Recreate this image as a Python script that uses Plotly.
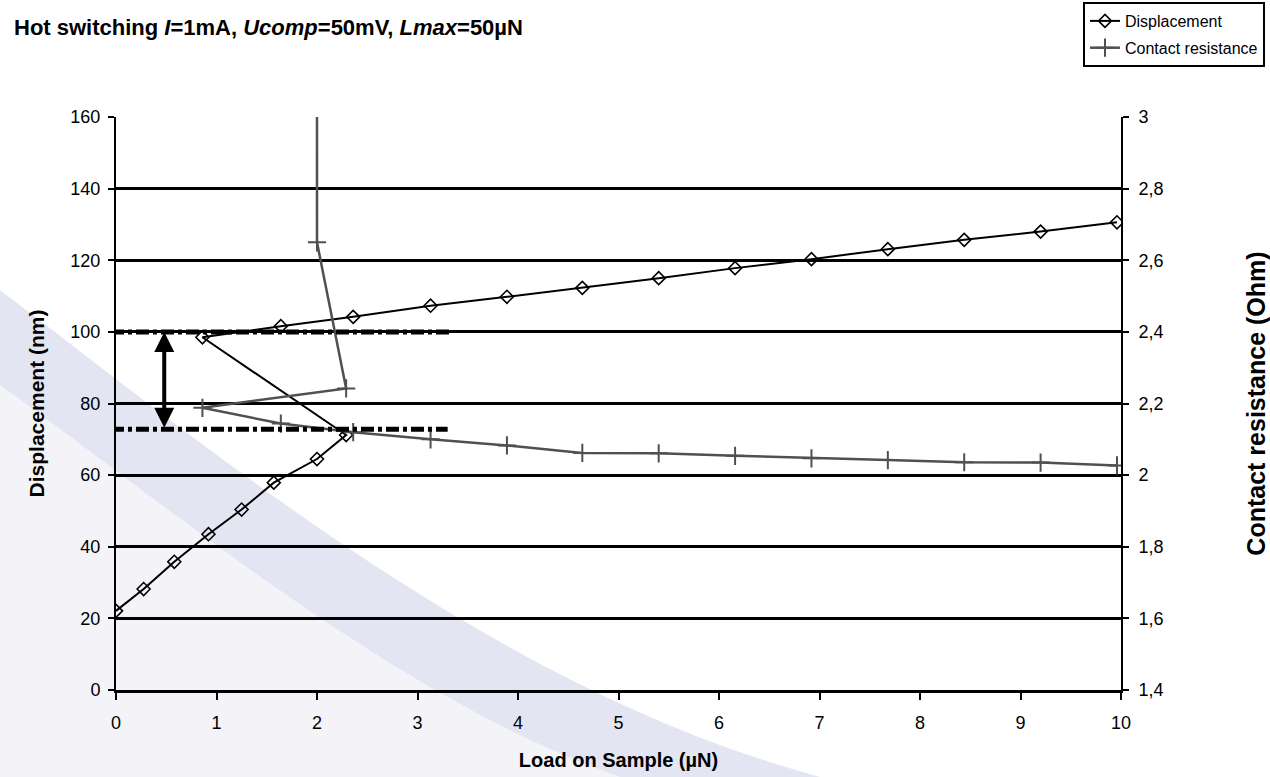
import plotly.graph_objects as go

# ---- data -------------------------------------------------------------
# load on sample (µN), in acquisition order (loading, then snap-in and reloading)
load = [0, 0.275, 0.58, 0.92, 1.25, 1.57, 2.0, 2.29, 0.86, 1.64, 2.36, 3.13,
        3.89, 4.64, 5.40, 6.16, 6.92, 7.68, 8.44, 9.20, 9.96]
# displacement (nm)
displacement = [22.1, 28.2, 35.8, 43.5, 50.4, 57.9, 64.5, 71.2, 98.5, 101.6,
                104.2, 107.3, 109.8, 112.3, 115.0, 117.8, 120.3, 123.1, 125.7,
                128.0, 130.6]
# contact resistance (Ohm); open contact before 2 µN is far off scale
contact_resistance = [None, None, None, None, None, 1000.0, 2.65, 2.242, 2.188,
                      2.144, 2.12, 2.100, 2.083, 2.062, 2.061, 2.054, 2.047,
                      2.042, 2.036, 2.035, 2.027]
# displacement levels before/after the hot-switching jump (nm)
jump_levels = [100.0, 72.8]
jump_span = [3.35, 3.30]      # how far (µN) each level line is drawn
arrow_load = 0.48

# ---- geometry ------------------------------------------------------------
W, H = 1270, 777
ML, MR, MT, MB = 116, 149, 117, 87
PW, PH = W - ML - MR, H - MT - MB


def px(x, y):
    """pixel position -> paper coordinates"""
    return (x - ML) / PW, (H - MB - y) / PH


def path(cmds):
    out = []
    for c, pts in cmds:
        s = c
        for (x, y) in pts:
            a, b = px(x, y)
            s += f" {a:.5f},{b:.5f}"
        out.append(s)
    return " ".join(out) + " Z"


FONT = "Liberation Sans, Arial, sans-serif"
GRAY = "#505050"

fig = go.Figure()

fig.add_trace(go.Scatter(
    x=load, y=displacement, name="Displacement", mode="lines+markers",
    legendgroup="d",
    line=dict(color="black", width=2),
    marker=dict(symbol="diamond-open", size=10, color="black",
                line=dict(color="black", width=1.6)),
))
fig.add_trace(go.Scatter(
    x=load, y=contact_resistance, name="Contact resistance", yaxis="y2",
    legendgroup="r",
    mode="lines+markers", connectgaps=False,
    line=dict(color=GRAY, width=2.5),
    marker=dict(symbol="cross-thin", size=13, color=GRAY,
                line=dict(color=GRAY, width=2)),
))

# decorative background swoosh
light_region = path([
    ("M", [(0, 385)]),
    ("C", [(180, 515), (400, 700), (620, 777)]),
    ("L", [(0, 777)]),
])
band = path([
    ("M", [(0, 290)]),
    ("C", [(230, 465), (500, 690), (820, 777)]),
    ("L", [(620, 777)]),
    ("C", [(400, 700), (180, 515), (0, 385)]),
])
shapes = [
    dict(type="path", path=light_region, xref="paper", yref="paper",
         fillcolor="#f3f3f8", line=dict(width=0), layer="below"),
    dict(type="path", path=band, xref="paper", yref="paper",
         fillcolor="#e3e6f2", line=dict(width=0), layer="below"),
]
# dash-dot level lines
for lvl, span in zip(jump_levels, jump_span):
    shapes.append(dict(type="line", xref="x", yref="y", x0=-0.05, x1=span,
                       y0=lvl, y1=lvl,
                       line=dict(color="black", width=5,
                                 dash="13px,4px,4px,4px")))

annotations = [
    dict(text="<b>Hot switching <i>I</i>=1mA, <i>Ucomp</i>=50mV, "
              "<i>Lmax</i>=50µN</b>",
         xref="paper", yref="paper", x=px(12, 0)[0], y=px(0, 28)[1],
         xanchor="left", yanchor="middle", showarrow=False,
         font=dict(family=FONT, size=22, color="black")),
    dict(x=arrow_load, y=jump_levels[0], ax=arrow_load, ay=jump_levels[1],
         xref="x", yref="y", axref="x", ayref="y", text="",
         showarrow=True, arrowhead=2, startarrowhead=2, arrowside="end+start",
         arrowsize=1, startarrowsize=1, arrowwidth=4, arrowcolor="black"),
]

fig.update_layout(
    width=W, height=H, autosize=False,
    margin=dict(l=ML, r=MR, t=MT, b=MB, autoexpand=False),
    paper_bgcolor="white", plot_bgcolor="rgba(0,0,0,0)",
    separators=", ",
    font=dict(family=FONT, size=18, color="black"),
    showlegend=True,
    legend=dict(x=px(1083, 0)[0], y=px(0, 2)[1], xanchor="left",
                yanchor="top",
                bgcolor="white", bordercolor="black", borderwidth=2,
                font=dict(family=FONT, size=16, color="black"),
                itemwidth=30, tracegroupgap=3),
    shapes=shapes,
    annotations=annotations,
    xaxis=dict(range=[0, 10], dtick=1, showgrid=False, zeroline=False,
               showline=True, linecolor="black", linewidth=3,
               ticks="outside", ticklen=7, tickwidth=2, tickcolor="black",
               ticklabelstandoff=7, automargin=False,
               title=dict(text="<b>Load on Sample (µN)</b>", standoff=22,
                          font=dict(family=FONT, size=20))),
    yaxis=dict(range=[0, 160], dtick=20, showgrid=True, gridcolor="black",
               gridwidth=3, zeroline=False, showline=True, linecolor="black",
               linewidth=2, ticks="outside", ticklen=6, tickwidth=2,
               tickcolor="black", ticklabelstandoff=4, automargin=False,
               title=dict(text="<b>Displacement (nm)</b>", standoff=20,
                          font=dict(family=FONT, size=21))),
    yaxis2=dict(range=[1.4, 3], dtick=0.2, overlaying="y", side="right",
                showgrid=False, zeroline=False, showline=True,
                linecolor="black", linewidth=2, ticks="outside", ticklen=6,
                tickwidth=2, tickcolor="black", ticklabelstandoff=6,
                automargin=False,
                title=dict(text="<b>Contact resistance (Ohm)</b>",
                           standoff=88, font=dict(family=FONT, size=25))),
)

fig.write_html("out.html")
